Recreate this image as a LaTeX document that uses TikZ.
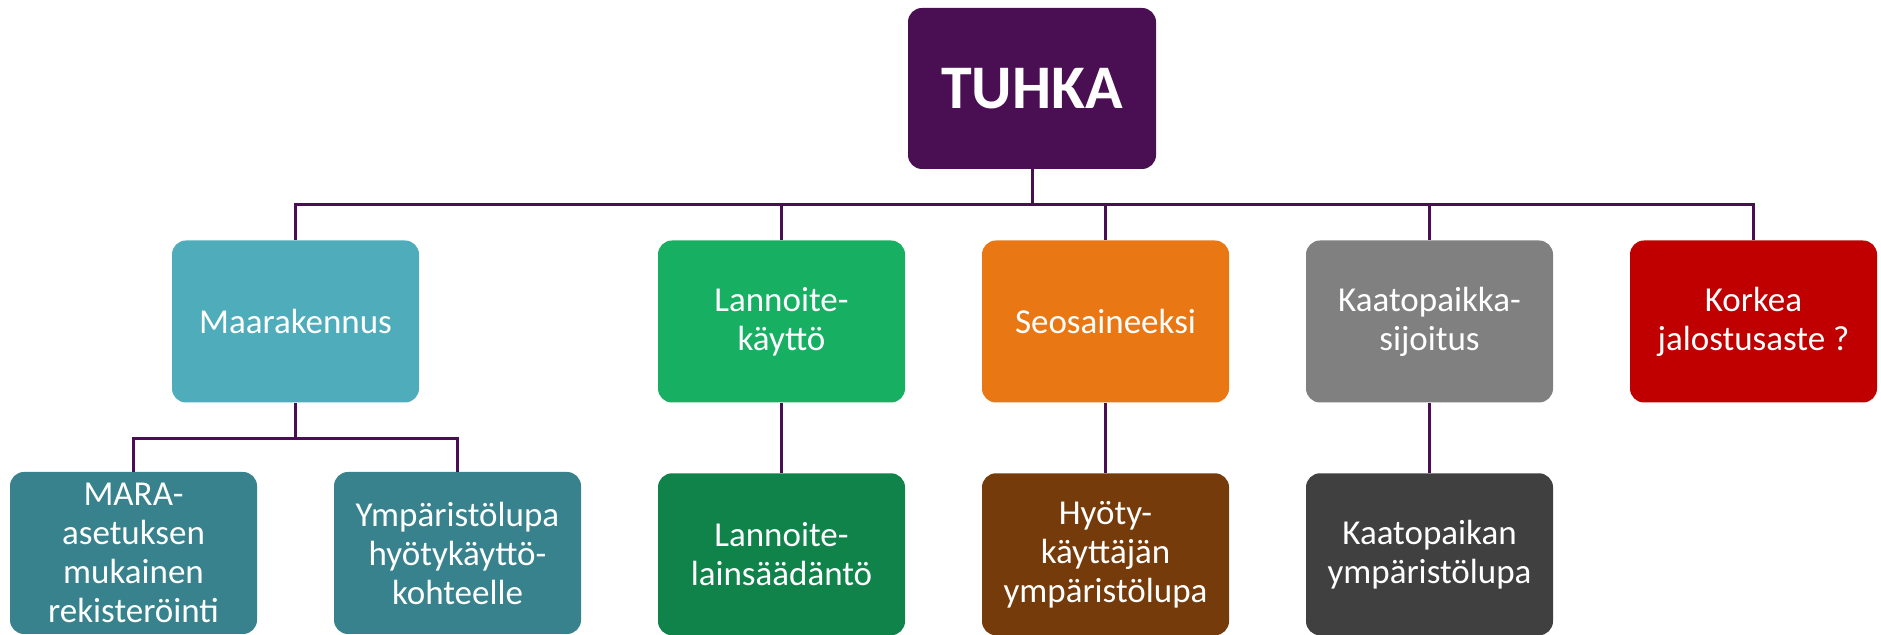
\documentclass[tikz,border=0pt]{standalone}
\usepackage{fontspec}
\setmainfont{Carlito}
\usetikzlibrary{positioning}

\definecolor{tuhkaviol}{HTML}{4A0F52}
\definecolor{maaturk}{HTML}{4FADBB}
\definecolor{maatumma}{HTML}{37828D}
\definecolor{lannvihr}{HTML}{17B063}
\definecolor{lanntumma}{HTML}{10834B}
\definecolor{seosoranssi}{HTML}{E97814}
\definecolor{seosruskea}{HTML}{763B0A}
\definecolor{kaatoharmaa}{HTML}{808080}
\definecolor{kaatotumma}{HTML}{404040}
\definecolor{korkeapuna}{HTML}{C00000}

\tikzset{
  box/.style={rectangle, rounded corners=7pt, minimum width=123.5pt,
    minimum height=81pt, inner sep=2pt, text=white, align=center,
    font=\fontsize{17.5}{19.5}\selectfont},
  link/.style={draw=tuhkaviol, line width=1.5pt}
}

\begin{document}
\begin{tikzpicture}[x=0.5pt,y=-0.5pt]
  \useasboundingbox (0,0) rectangle (1881,635);

  \node[box, fill=tuhkaviol, minimum width=124pt, minimum height=80.5pt,
    font=\fontsize{31}{36}\selectfont\bfseries] (tuhka) at (1032,88.5) {TUHKA};

  % level 1
  \node[box, fill=maaturk] (maara) at (295.5,321.5) {Maarakennus};
  \node[box, fill=lannvihr] (lann) at (781.5,321.5) {Lannoite-\\käyttö};
  \node[box, fill=seosoranssi] (seos) at (1105.5,321.5) {Seosaineeksi};
  \node[box, fill=kaatoharmaa] (kaato) at (1429.5,321.5) {Kaatopaikka-\\sijoitus};
  \node[box, fill=korkeapuna] (korkea) at (1753.5,321.5) {Korkea\\jalostusaste ?};

  % level 2
  \node[box, fill=maatumma] (mara) at (133.5,553) {MARA-\\asetuksen\\mukainen\\rekisteröinti};
  \node[box, fill=maatumma] (ymp) at (457.5,553) {Ympäristölupa\\hyötykäyttö-\\kohteelle};
  \node[box, fill=lanntumma, below=35pt of lann] (lannlaki) {Lannoite-\\lainsäädäntö};
  \node[box, fill=seosruskea, below=35pt of seos] (hyoty) {Hyöty-\\käyttäjän\\ympäristölupa};
  \node[box, fill=kaatotumma, below=35pt of kaato] (kaatolupa) {Kaatopaikan\\ympäristölupa};

  % connectors
  \coordinate (bus) at (0,205);
  \coordinate (subbus) at (0,439);
  \foreach \n in {maara,lann,seos,kaato,korkea}
    \draw[link] (tuhka.south) -- (tuhka.south |- bus) -| (\n.north);
  \foreach \n in {mara,ymp}
    \draw[link] (maara.south) -- (maara.south |- subbus) -| (\n.north);
  \draw[link] (lann.south) -- (lannlaki.north);
  \draw[link] (seos.south) -- (hyoty.north);
  \draw[link] (kaato.south) -- (kaatolupa.north);
\end{tikzpicture}
\end{document}
